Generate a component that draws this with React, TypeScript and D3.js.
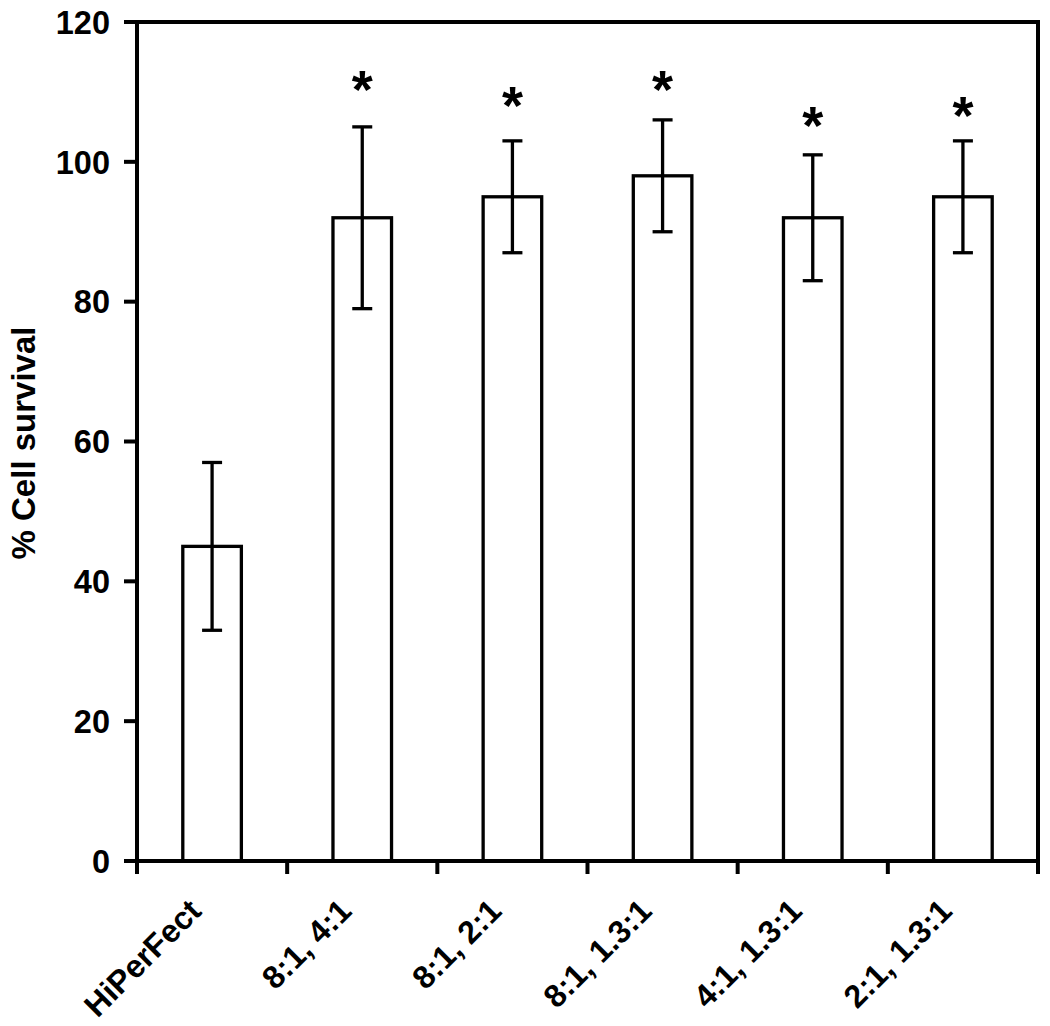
import React from "react";
import * as d3 from "d3";

const categories = ["HiPerFect", "8:1, 4:1", "8:1, 2:1", "8:1, 1.3:1", "4:1, 1.3:1", "2:1, 1.3:1"];
const means = [45, 92, 95, 98, 92, 95];
const errors = [12, 13, 8, 8, 9, 8];
const significant = [false, true, true, true, true, true];
const starLevels = [0, 111.4, 109.2, 111.4, 106.3, 107.7];
const yTicks = [0, 20, 40, 60, 80, 100, 120];
const yLabel = "% Cell survival";

const W = 1050;
const H = 1026;
const left = 137;
const right = 1038;
const top = 22;
const bottom = 861;
const FONT = "'Liberation Sans', Arial, sans-serif";

export default function App() {
  const x = d3.scaleBand<string>().domain(categories).range([left, right]).padding(0);
  const y = d3.scaleLinear().domain([0, 120]).range([bottom, top]);
  const bw = x.bandwidth() * 0.39;
  const boundaries = [...categories.map((c) => x(c) as number), right];

  return (
    <svg
      width={W}
      height={H}
      style={{ position: "absolute", left: 0, top: 0, background: "#fff" }}
      fontFamily={FONT}
    >
      <rect x={0} y={0} width={W} height={H} fill="#fff" />
      {/* bars */}
      {categories.map((c, i) => {
        const cx = (x(c) as number) + x.bandwidth() / 2;
        return (
          <g key={c}>
            <rect
              x={cx - bw / 2}
              y={y(means[i])}
              width={bw}
              height={y(0) - y(means[i])}
              fill="#fff"
              stroke="#000"
              strokeWidth={3.3}
            />
            <line x1={cx} x2={cx} y1={y(means[i] + errors[i])} y2={y(means[i] - errors[i])} stroke="#000" strokeWidth={3.3} />
            <line x1={cx - 10} x2={cx + 10} y1={y(means[i] + errors[i])} y2={y(means[i] + errors[i])} stroke="#000" strokeWidth={3.3} />
            <line x1={cx - 10} x2={cx + 10} y1={y(means[i] - errors[i])} y2={y(means[i] - errors[i])} stroke="#000" strokeWidth={3.3} />
            {significant[i] && (
              <text
                x={cx}
                y={y(starLevels[i]) + 26}
                textAnchor="middle"
                fontSize={54}
                fontWeight="bold"
              >
                *
              </text>
            )}
          </g>
        );
      })}
      {/* frame */}
      <line x1={124} x2={right + 2} y1={top} y2={top} stroke="#000" strokeWidth={4} />
      <line x1={right} x2={right} y1={top} y2={bottom + 13} stroke="#000" strokeWidth={4} />
      <line x1={left} x2={left} y1={top} y2={bottom + 13} stroke="#000" strokeWidth={4} />
      <line x1={124} x2={right + 2} y1={bottom} y2={bottom} stroke="#000" strokeWidth={4} />
      {/* y ticks */}
      {yTicks.map((t) => (
        <g key={t}>
          <line x1={124} x2={left} y1={y(t)} y2={y(t)} stroke="#000" strokeWidth={4} />
          <text x={110} y={y(t)} dy="0.36em" textAnchor="end" fontSize={32.5} fontWeight="bold">
            {t}
          </text>
        </g>
      ))}
      {/* x ticks */}
      {boundaries.map((b, i) => (
        <line key={i} x1={b} x2={b} y1={bottom} y2={bottom + 13} stroke="#000" strokeWidth={4} />
      ))}
      {/* x labels */}
      {categories.map((c) => {
        const cx = (x(c) as number) + x.bandwidth() / 2;
        return (
          <text
            key={c}
            transform={`translate(${cx - 9},${913}) rotate(-45)`}
            textAnchor="end"
            fontSize={32}
            fontWeight="bold"
          >
            {c}
          </text>
        );
      })}
      {/* y label */}
      <text
        transform={`translate(${35},${443}) rotate(-90)`}
        textAnchor="middle"
        fontSize={33}
        fontWeight="bold"
      >
        {yLabel}
      </text>
    </svg>
  );
}
